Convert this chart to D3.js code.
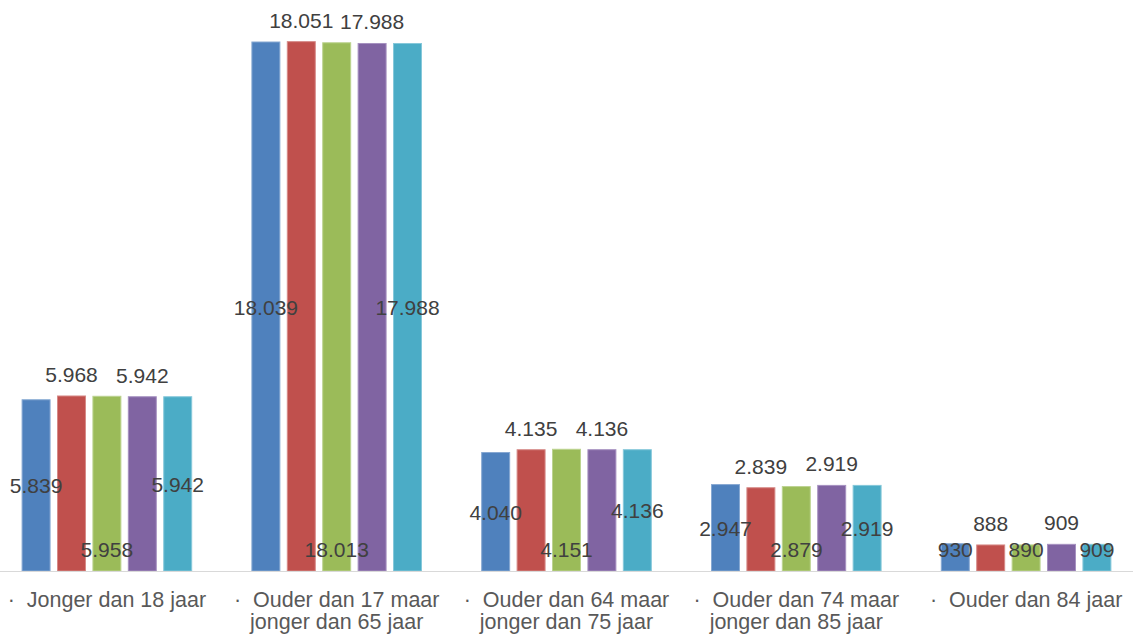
<!DOCTYPE html>
<html>
<head>
<meta charset="utf-8">
<script src="https://cdn.jsdelivr.net/npm/d3@7"></script>
<style>
  html, body { margin: 0; padding: 0; background: #fff; }
  svg { display: block; }
</style>
</head>
<body>
<svg id="chart" width="1133" height="634"></svg>
<script>
// Age groups (x-axis categories), each drawn on one or two lines
const categories = [
  ["Jonger dan 18 jaar"],
  ["Ouder dan 17 maar", "jonger dan 65 jaar"],
  ["Ouder dan 64 maar", "jonger dan 75 jaar"],
  ["Ouder dan 74 maar", "jonger dan 85 jaar"],
  ["Ouder dan 84 jaar"]
];

// Five series, one value per age group
const series1 = [5839, 18039, 4040, 2947, 930];
const series2 = [5968, 18051, 4135, 2839, 888];
const series3 = [5958, 18013, 4151, 2879, 890];
const series4 = [5942, 17988, 4136, 2919, 909];
const series5 = [5942, 17988, 4136, 2919, 909];

const seriesValues = [series1, series2, series3, series4, series5];
const seriesColors = ["#4F81BD", "#C0504D", "#9BBB59", "#8064A2", "#4BACC6"];
const seriesStroke = ["#86a8d2", "#d68a87", "#bcd390", "#a691c0", "#86c8da"];
// Where each series places its value label: middle, above, inside base
const labelPos = ["center", "outside", "base", "outside", "center"];

const fmt = v => d3.format(",")(v).replace(/,/g, ".");

const svg = d3.select("#chart");
const baseY = 571;

const x0 = d3.scaleBand()
  .domain(d3.range(categories.length))
  .range([-8, 1141])
  .paddingInner(0)
  .paddingOuter(0);

const x1 = d3.scaleBand()
  .domain(d3.range(seriesValues.length))
  .range([0, x0.bandwidth()])
  .paddingInner(0.21)
  .paddingOuter(0.85);

const y = d3.scaleLinear()
  .domain([0, 18039])
  .range([baseY, 42]);

// Bars
seriesValues.forEach((vals, s) => {
  svg.append("g")
    .selectAll("rect")
    .data(vals)
    .join("rect")
    .attr("x", (d, i) => x0(i) + x1(s))
    .attr("y", d => y(d))
    .attr("width", x1.bandwidth())
    .attr("height", d => baseY - y(d))
    .attr("fill", seriesColors[s])
    .attr("stroke", seriesStroke[s])
    .attr("stroke-width", 1);
});

// Category axis line
svg.append("line")
  .attr("x1", 0).attr("x2", 1133)
  .attr("y1", baseY + 0.5).attr("y2", baseY + 0.5)
  .attr("stroke", "#d9d9d9")
  .attr("stroke-width", 1.2);

// Value labels
const fontFam = "'Liberation Sans', Arial, sans-serif";
const baseLabelY = 557;
seriesValues.forEach((vals, s) => {
  svg.append("g")
    .selectAll("text")
    .data(vals)
    .join("text")
    .attr("x", (d, i) => x0(i) + x1(s) + x1.bandwidth() / 2)
    .attr("y", d => {
      if (labelPos[s] === "outside") return y(d) - 14;
      if (labelPos[s] === "base") return baseLabelY;
      return Math.min((y(d) + baseY) / 2 + 8, baseLabelY);
    })
    .attr("text-anchor", "middle")
    .attr("font-family", fontFam)
    .attr("font-size", 21)
    .attr("fill", "#404040")
    .text(d => fmt(d));
});

// Category labels
const catG = svg.append("g");
categories.forEach((lines, i) => {
  const cx = x0(i) + x0.bandwidth() / 2;
  const t = catG.append("text")
    .attr("text-anchor", "middle")
    .attr("font-family", fontFam)
    .attr("font-size", 21.5)
    .attr("fill", "#595959");
  lines.forEach((ln, j) => {
    t.append("tspan")
      .attr("x", cx)
      .attr("y", 607 + j * 22)
      .attr("xml:space", "preserve")
      .text(j === 0 ? "\u00B7  " + ln : ln);
  });
});
</script>
</body>
</html>
